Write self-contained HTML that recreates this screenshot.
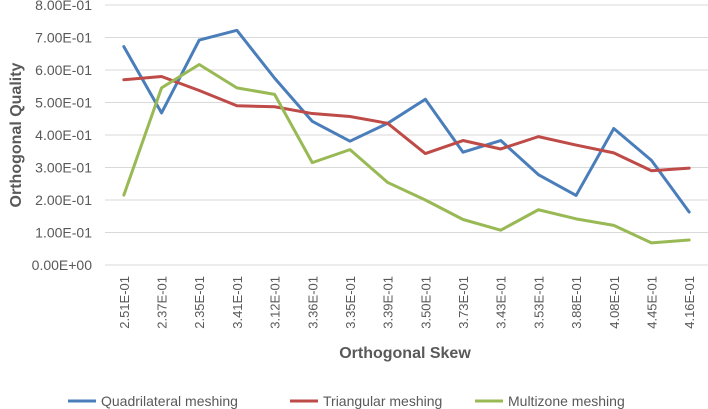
<!DOCTYPE html>
<html><head><meta charset="utf-8"><style>
html,body{margin:0;padding:0;background:#fff;}
svg{display:block;font-family:"Liberation Sans",sans-serif;}
</style></head><body>
<svg id="chart" width="708" height="409"></svg>
<script>
const categories=["2.51E-01","2.37E-01","2.35E-01","3.41E-01","3.12E-01","3.36E-01","3.35E-01","3.39E-01","3.50E-01","3.73E-01","3.43E-01","3.53E-01","3.88E-01","4.08E-01","4.45E-01","4.16E-01"];
const quadValues=[0.672,0.468,0.692,0.722,0.575,0.442,0.381,0.436,0.510,0.347,0.383,0.278,0.214,0.420,0.322,0.163];
const triValues=[0.570,0.580,0.537,0.490,0.487,0.466,0.457,0.436,0.343,0.383,0.357,0.395,0.369,0.345,0.290,0.298];
const multiValues=[0.215,0.545,0.617,0.545,0.525,0.315,0.355,0.254,0.200,0.140,0.107,0.170,0.142,0.122,0.068,0.077];
const yTicks=[0,0.1,0.2,0.3,0.4,0.5,0.6,0.7,0.8];
const yTickLabels=["0.00E+00","1.00E-01","2.00E-01","3.00E-01","4.00E-01","5.00E-01","6.00E-01","7.00E-01","8.00E-01"];
const seriesNames=["Quadrilateral  meshing","Triangular  meshing","Multizone meshing"];
const NS="http://www.w3.org/2000/svg";
const svg=document.getElementById('chart');
const X0=105,X1=708,Y0=265,Y1=5;
const band=(X1-X0)/categories.length;
function x(i){return X0+band*(i+0.5);}
function y(v){return Y0-(v/0.8)*(Y0-Y1);}
function mk(t,a,txt){const e=document.createElementNS(NS,t);for(const k in a)e.setAttribute(k,a[k]);if(txt!==undefined)e.textContent=txt;svg.appendChild(e);return e;}
yTicks.forEach((v,i)=>{
 const g=mk('line',{x1:X0,x2:X1,y1:y(v),y2:y(v),stroke:'#d9d9d9','stroke-width':1});
 
 
 const t=mk('text',{x:92,y:y(v)+5,'text-anchor':'end','font-size':14,fill:'#595959'},yTickLabels[i]);
 
 
});
categories.forEach((c,i)=>{
 const t=mk('text',{x:0,y:0,'text-anchor':'end','font-size':13,fill:'#595959',transform:`translate(${x(i)+5},276) rotate(-90)`},c);
 
 
});
const colors=['#4a7ebb','#be4b48','#98b954'];
[quadValues,triValues,multiValues].forEach((vals,s)=>{
 const p=mk('polyline',{points:vals.map((v,i)=>x(i)+','+y(v)).join(' '),fill:'none',stroke:colors[s],'stroke-width':3,'stroke-linejoin':'round','stroke-linecap':'round'});
 
 
});
const yt=mk('text',{x:0,y:0,'text-anchor':'middle','font-size':16,'font-weight':'bold',fill:'#595959',transform:'translate(21,135) rotate(-90)'},'Orthogonal Quality');


const xt=mk('text',{x:405,y:358,'text-anchor':'middle','font-size':16,'font-weight':'bold',fill:'#595959'},'Orthogonal Skew');


const lx=[68,290,475];
seriesNames.forEach((n,s)=>{
 const l=mk('line',{x1:lx[s],x2:lx[s]+28,y1:401,y2:401,stroke:colors[s],'stroke-width':3});
 
 
 const t=mk('text',{x:lx[s]+33,y:406,'font-size':14,fill:'#595959'},n);
 
 
});
</script>
</body></html>
